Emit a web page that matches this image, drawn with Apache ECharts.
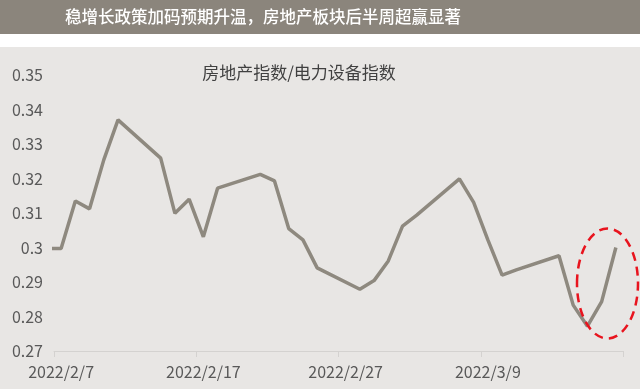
<!DOCTYPE html>
<html>
<head>
<meta charset="utf-8">
<script src="https://cdn.jsdelivr.net/npm/echarts@6/dist/echarts.min.js"></script>
<style>
html,body{margin:0;padding:0;background:#ffffff;}
#c{width:640px;height:389px;}
</style>
</head>
<body>
<div id="c"></div>
<script>
// ---- data ----
var headerTitle = '稳增长政策加码预期升温，房地产板块后半周超赢显著';
var chartTitle = '房地产指数/电力设备指数';
var axisStart = '2022-02-07';
var axisDays = 40;
var tradeDates = ['2022-01-28','2022-02-07','2022-02-08','2022-02-09','2022-02-10','2022-02-11',
  '2022-02-14','2022-02-15','2022-02-16','2022-02-17','2022-02-18',
  '2022-02-21','2022-02-22','2022-02-23','2022-02-24','2022-02-25',
  '2022-02-28','2022-03-01','2022-03-02','2022-03-03','2022-03-04',
  '2022-03-07','2022-03-08','2022-03-09','2022-03-10','2022-03-11',
  '2022-03-14','2022-03-15','2022-03-16','2022-03-17','2022-03-18'];
var ratioValues = [0.2997,0.2997,0.3135,0.3112,0.3254,0.3370,
  0.3259,0.3099,0.3140,0.3031,0.3172,
  0.3212,0.3193,0.3055,0.3022,0.2941,
  0.2879,0.2904,0.2961,0.3062,0.3094,
  0.3199,0.3131,0.3022,0.2920,0.2935,
  0.2976,0.2833,0.2772,0.2843,0.3000];
var yMin = 0.27, yMax = 0.35, yStep = 0.01;

// ---- helpers ----
function toUTC(s){var p=s.split('-');return Date.UTC(+p[0],+p[1]-1,+p[2]);}
var DAY = 86400000;
var startMs = toUTC(axisStart);
var dayLabels = [];
for (var i=0;i<axisDays;i++){
  var d = new Date(startMs + i*DAY);
  dayLabels.push(d.getUTCFullYear()+'/'+(d.getUTCMonth()+1)+'/'+d.getUTCDate());
}
var seriesData = tradeDates.map(function(s,i){
  return [(toUTC(s)-startMs)/DAY + 0.5, ratioValues[i]];
});

var font = '"Noto Sans CJK SC", "Noto Sans", sans-serif';
var chart = echarts.init(document.getElementById('c'));
chart.setOption({
  animation:false,
  textStyle:{fontFamily:font},
  graphic:[
    {type:'rect', z:-10, shape:{x:0,y:0,width:640,height:34}, style:{fill:'#8b857c'}},
    {type:'rect', z:-10, shape:{x:0,y:47,width:640,height:342}, style:{fill:'#e8e6e4'}},
    {type:'ellipse', z:100, shape:{cx:607.5,cy:283.5,rx:30.5,ry:55}, style:{fill:'none',stroke:'#e8141e',lineWidth:2.5,lineDash:[9,6]}}
  ],
  title:[
    {text:headerTitle, left:60, top:3, textStyle:{color:'#ffffff',fontSize:16.5,fontWeight:500,fontFamily:font}},
    {text:chartTitle, left:'294', textAlign:'center', top:59, textStyle:{color:'#404040',fontSize:17,fontWeight:'normal',fontFamily:font}}
  ],
  grid:{left:54,right:17,top:75,bottom:38,containLabel:false},
  xAxis:[
    {type:'value', position:'bottom', min:0, max:axisDays, interval:10,
     axisLine:{show:true,lineStyle:{color:'#d4d2d0',width:1}},
     axisTick:{show:true,length:6,lineStyle:{color:'#d4d2d0'}},
     axisLabel:{show:false}, splitLine:{show:false}},
    {type:'category', position:'bottom', data:dayLabels, boundaryGap:true,
     axisLine:{show:false}, axisTick:{show:false}, splitLine:{show:false},
     axisLabel:{interval:9, margin:13, color:'#595959', fontSize:16, fontFamily:font}}
  ],
  yAxis:{type:'value', min:yMin, max:yMax, interval:yStep,
    axisLine:{show:false}, axisTick:{show:false}, splitLine:{show:false},
    axisLabel:{margin:11, color:'#595959', fontSize:16, fontFamily:font,
      formatter:function(v){return String(+v.toFixed(2));}}},
  series:[{
    type:'line', xAxisIndex:0, data:seriesData, clip:true,
    symbol:'none', lineStyle:{color:'#8e897f', width:3.5}
  }]
});
</script>
</body>
</html>
